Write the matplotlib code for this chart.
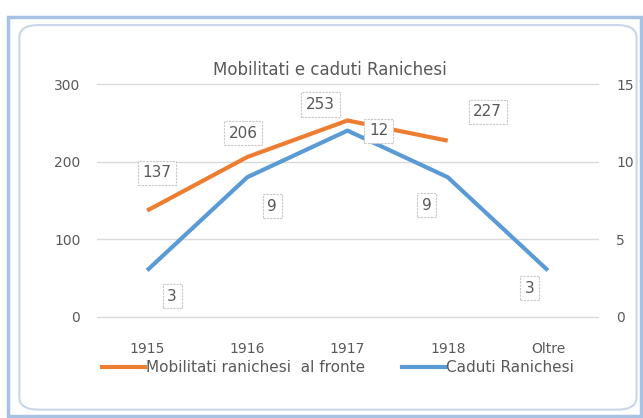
import matplotlib.pyplot as plt
from matplotlib.patches import FancyBboxPatch, Rectangle
import numpy as np

categories = ["1915", "1916", "1917", "1918", "Oltre"]
mobilitati = [137, 206, 253, 227, None]
caduti = [3, 9, 12, 9, 3]

title = "Mobilitati e caduti Ranichesi"
label_mob = "Mobilitati ranichesi  al fronte"
label_cad = "Caduti Ranichesi"

orange = "#ED7D31"
blue = "#5B9BD5"
grey_text = "#595959"

fig = plt.figure(figsize=(6.43, 4.18), dpi=100)
fig.patch.set_facecolor("white")

# excel-ish frame around the chart
fig.patches.append(Rectangle((0.012, 0.005), 0.985, 0.955, transform=fig.transFigure,
                             fill=False, ec="#a8c2e4", lw=2.5))
fig.patches.append(FancyBboxPatch((0.03, 0.02), 0.96, 0.92, boxstyle="round,pad=0,rounding_size=0.03",
                                  transform=fig.transFigure, fill=False, ec="#c9d6e8", lw=1.5))

ax = fig.add_axes([97 / 643, 101 / 418, 501 / 643, 233 / 418])
ax2 = ax.twinx()

x = np.arange(len(categories))
mob_x = [i for i, v in enumerate(mobilitati) if v is not None]
mob_y = [v for v in mobilitati if v is not None]

ax.plot(mob_x, mob_y, color=orange, lw=3, solid_capstyle="butt", zorder=3)
ax2.plot(x, caduti, color=blue, lw=3, solid_capstyle="butt", zorder=3)

ax.set_xlim(-0.5, len(categories) - 0.5)
ax.set_ylim(0, 300)
ax2.set_ylim(0, 15)
ax.set_yticks([0, 100, 200, 300])
ax2.set_yticks([0, 5, 10, 15])
ax.set_xticks(x)
ax.set_xticklabels(categories)
ax.grid(axis="y", color="#d9d9d9", lw=1)
for gl in ax.get_ygridlines():
    gl.set_clip_on(False)
ax.set_axisbelow(True)

for a in (ax, ax2):
    for s in a.spines.values():
        s.set_visible(False)
    a.tick_params(length=0, labelsize=10, labelcolor=grey_text)
ax.tick_params(axis="y", pad=12)
ax2.tick_params(axis="y", pad=13)
ax.tick_params(axis="x", pad=18)

box = dict(boxstyle="square,pad=0.3", fc="white", ec="#c8c8c8", lw=0.8, ls=(0, (2, 1)))

# label offsets in pixels relative to each point
mob_off = [(10, 38), (-4, 24), (-27, 16), (40, 29)]
for xi, yi, off in zip(mob_x, mob_y, mob_off):
    ax.annotate(str(yi), (xi, yi), xytext=off, textcoords="offset pixels",
                ha="center", va="center", fontsize=11, color=grey_text, bbox=box, zorder=5)

cad_off = [(25, -26), (25, -29), (31, 0), (-21, -28), (-18, -18)]
for xi, yi, off in zip(x, caduti, cad_off):
    ax2.annotate(str(yi), (xi, yi), xytext=off, textcoords="offset pixels",
                 ha="center", va="center", fontsize=11, color=grey_text, bbox=box, zorder=5)

fig.text(330 / 643, 1 - 70 / 418, title, ha="center", va="center", fontsize=12, color=grey_text)

h1 = plt.Line2D([], [], color=orange, lw=3)
h2 = plt.Line2D([], [], color=blue, lw=3)
leg = fig.legend([h1, h2], [label_mob, label_cad], loc="center left",
                 bbox_to_anchor=(88 / 643, 1 - 368 / 418), ncol=2, frameon=False,
                 fontsize=11, handlelength=2.8, handletextpad=0.1, columnspacing=2.4,
                 labelcolor=grey_text)

fig.savefig("out.png", dpi=100)
